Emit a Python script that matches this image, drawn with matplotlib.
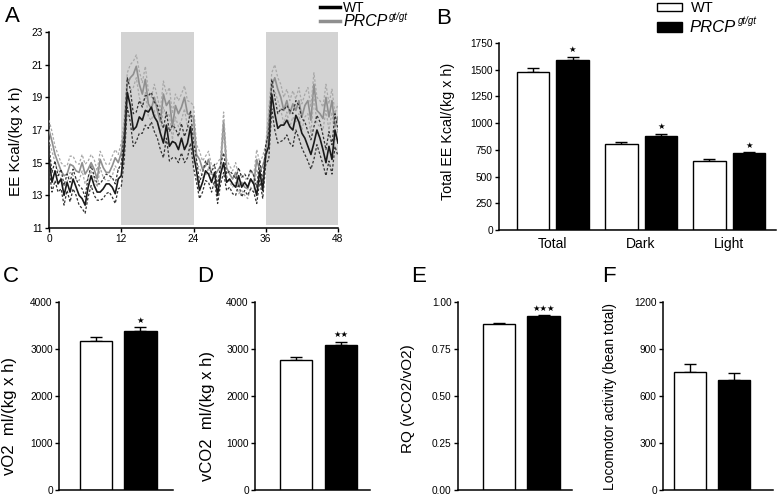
import numpy as np
import matplotlib
matplotlib.use("Agg")
import matplotlib.pyplot as plt

plt.rcParams['font.family'] = ['Liberation Sans', 'DejaVu Sans']

# ---------------- data ----------------
hours = np.arange(0, 48.5, 0.5)
wt_ee = [15.3, 13.8, 14.5, 13.7, 14.0, 13.0, 13.8, 13.2, 14.0, 13.5, 13.0, 12.8, 12.4, 13.5, 14.2, 13.6, 13.2, 13.2, 13.4, 13.7, 13.7, 13.5, 13.1, 14.0, 14.2,
         16.0, 19.3, 18.5, 17.0, 17.2, 17.8, 17.6, 18.2, 18.1, 18.4, 17.8, 17.5, 16.8, 16.2, 17.3, 16.0, 16.3, 16.2, 15.8, 16.5, 15.8, 16.2, 17.2, 15.5,
         14.5, 13.3, 13.8, 14.5, 14.3, 13.8, 14.4, 13.0, 14.3, 15.0, 13.8, 14.0, 13.7, 13.5, 14.2, 13.5, 13.8, 13.5, 14.0, 13.7, 13.0, 14.5, 13.3, 15.5,
         16.0, 19.2, 18.0, 17.1, 17.3, 17.3, 17.6, 17.2, 17.0, 17.9, 17.5, 16.8, 16.5, 16.0, 15.5, 16.2, 17.0, 16.5, 15.8, 15.0, 16.0, 15.2, 17.0, 16.2]
wt_sem = [0.7, 0.6, 0.6, 0.5, 0.6, 0.6, 0.5, 0.6, 0.6, 0.5, 0.6, 0.6, 0.5, 0.6, 0.6, 0.6, 0.5, 0.5, 0.6, 0.6, 0.5, 0.6, 0.6, 0.6, 0.7,
          0.8, 0.9, 1.0, 1.0, 0.9, 1.0, 0.8, 0.9, 1.0, 0.9, 0.9, 1.0, 1.0, 0.9, 0.8, 0.9, 1.0, 0.9, 0.8, 0.9, 0.8, 0.9, 1.0, 0.8,
          0.7, 0.5, 0.6, 0.6, 0.5, 0.6, 0.5, 0.5, 0.6, 0.6, 0.5, 0.5, 0.6, 0.5, 0.5, 0.6, 0.5, 0.5, 0.6, 0.5, 0.5, 0.6, 0.5, 0.6,
          0.8, 0.9, 1.0, 0.9, 1.0, 0.9, 0.9, 1.0, 1.0, 0.9, 1.0, 0.9, 1.0, 0.9, 0.9, 1.0, 0.9, 1.0, 0.9, 0.8, 0.9, 0.9, 1.0, 0.8]
prcp_ee = [17.0, 16.3, 15.5, 15.0, 14.5, 14.2, 14.3, 14.9, 14.8, 14.5, 14.4, 15.0, 14.3, 14.6, 15.0, 14.6, 14.0, 15.2, 14.7, 14.4, 14.4, 14.8, 15.3, 15.0, 15.6,
           17.0, 19.8, 20.2, 20.4, 20.9, 19.8, 19.2, 20.1, 18.6, 18.3, 19.0, 18.2, 17.5, 19.2, 18.5, 18.8, 17.2, 18.5, 18.0, 18.4, 19.0, 18.0, 17.9, 17.8,
           15.5, 15.2, 14.6, 14.8, 15.2, 14.3, 14.2, 14.5, 14.8, 17.5, 14.7, 14.3, 14.0, 14.4, 13.6, 13.8, 13.5, 13.4, 14.0, 13.7, 15.2, 14.5, 14.8, 15.5,
           17.5, 19.7, 20.2, 19.5, 19.0, 18.2, 18.8, 18.0, 18.6, 18.2, 18.8, 17.8, 18.5, 18.8, 17.6, 19.8, 18.2, 18.0, 17.7, 19.0, 17.8, 18.8, 17.2, 17.8]
prcp_sem = [0.6, 0.6, 0.5, 0.5, 0.5, 0.6, 0.5, 0.5, 0.6, 0.5, 0.5, 0.5, 0.6, 0.5, 0.5, 0.6, 0.5, 0.5, 0.6, 0.5, 0.5, 0.6, 0.5, 0.5, 0.6,
            0.7, 0.7, 0.8, 0.8, 0.7, 0.8, 0.7, 0.8, 0.8, 0.7, 0.8, 0.8, 0.7, 0.8, 0.7, 0.8, 0.8, 0.7, 0.8, 0.8, 0.7, 0.8, 0.8, 0.7,
            0.6, 0.5, 0.5, 0.6, 0.5, 0.5, 0.6, 0.5, 0.5, 0.6, 0.5, 0.5, 0.5, 0.6, 0.5, 0.5, 0.5, 0.6, 0.5, 0.5, 0.6, 0.5, 0.6, 0.6,
            0.7, 0.8, 0.8, 0.7, 0.8, 0.8, 0.7, 0.8, 0.8, 0.7, 0.8, 0.8, 0.7, 0.8, 0.8, 0.7, 0.8, 0.8, 0.7, 0.8, 0.8, 0.7, 0.8, 0.8]

b_cats = ["Total", "Dark", "Light"]
b_wt = [1480, 805, 645]
b_wt_err = [40, 22, 18]
b_prcp = [1590, 880, 718]
b_prcp_err = [30, 22, 8]
b_stars = ["★", "★", "★"]

small_panels = [
    # letter, ylabel, ymax, yticks, wt, wt_err, prcp, prcp_err, stars
    ("C", "vO2  ml/(kg x h)", 4000, [0, 1000, 2000, 3000, 4000], 3160, 85, 3390, 80, "★"),
    ("D", "vCO2  ml/(kg x h)", 4000, [0, 1000, 2000, 3000, 4000], 2770, 70, 3080, 75, "★★"),
    ("E", "RQ (vCO2/vO2)", 1.0, [0.0, 0.25, 0.5, 0.75, 1.0], 0.885, 0.004, 0.925, 0.005, "★★★"),
    ("F", "Locomotor activity (bean total)", 1200, [0, 300, 600, 900, 1200], 755, 48, 705, 40, ""),
]
small_tick_labels = {
    "C": ["0", "1000", "2000", "3000", "4000"],
    "D": ["0", "1000", "2000", "3000", "4000"],
    "E": ["0.00", "0.25", "0.50", "0.75", "1.00"],
    "F": ["0", "300", "600", "900", "1200"],
}

# ---------------- layout ----------------
W, H = 777, 495
fig = plt.figure(figsize=(W / 100, H / 100), dpi=100)


def px_axes(l, t, r, b):
    return fig.add_axes([l / W, 1 - b / H, (r - l) / W, (b - t) / H])


def style(ax, fs=7.3):
    for s in ["top", "right"]:
        ax.spines[s].set_visible(False)
    for s in ["left", "bottom"]:
        ax.spines[s].set_linewidth(1.1)
    ax.tick_params(direction="out", length=3, width=1, labelsize=fs, pad=1.5)


def place_ylabel(ax, text, fs, xc, yc):
    ax.set_ylabel(text, fontsize=fs)
    ax.yaxis.set_label_coords(xc / W, 1 - yc / H, transform=fig.transFigure)
    ax.yaxis.label.set_va("center")


GRAY = "#8f8f8f"

# ---------------- panel A ----------------
axA = px_axes(49, 32, 338, 228)
style(axA)
axA.axvspan(12, 24, ymin=0.015, ymax=1, color="#d3d3d3", lw=0, zorder=0)
axA.axvspan(36, 48, ymin=0.015, ymax=1, color="#d3d3d3", lw=0, zorder=0)
wt = np.array(wt_ee); ws = np.array(wt_sem)
pr = np.array(prcp_ee); ps = np.array(prcp_sem)
axA.plot(hours, pr, color=GRAY, lw=1.2, zorder=3)
axA.plot(hours, pr + ps, color="#a8a8a8", lw=0.9, ls=(0, (2, 1.5)), zorder=3)
axA.plot(hours, pr - ps, color="#a8a8a8", lw=0.9, ls=(0, (2, 1.5)), zorder=3)
axA.plot(hours, wt, color="#1a1a1a", lw=1.2, zorder=4)
axA.plot(hours, wt + ws, color="#333333", lw=0.9, ls=(0, (2, 1.5)), zorder=4)
axA.plot(hours, wt - ws, color="#333333", lw=0.9, ls=(0, (2, 1.5)), zorder=4)
axA.set_xlim(0, 48)
axA.set_ylim(11, 23)
axA.set_xticks([0, 12, 24, 36, 48])
axA.set_yticks([11, 13, 15, 17, 19, 21, 23])
place_ylabel(axA, "EE Kcal/(kg x h)", 11, 16, 141)
fig.text(5 / W, 1 - 17 / H, "A", fontsize=16, va="center", ha="left")

# legend A
fig.add_artist(plt.Line2D([320 / W, 340 / W], [1 - 7 / H, 1 - 7 / H], color="black", lw=2.5))
fig.add_artist(plt.Line2D([320 / W, 340 / W], [1 - 21 / H, 1 - 21 / H], color=GRAY, lw=2.5))
fig.text(343 / W, 1 - 12 / H, "WT", fontsize=10, va="baseline", ha="left")
fig.text(343 / W, 1 - 26 / H, "PRCP", fontsize=11.5, style="italic", va="baseline", ha="left")
fig.text(389 / W, 1 - 20.5 / H, "gt/gt", fontsize=7, style="italic", va="baseline", ha="left")

# ---------------- panel B ----------------
axB = px_axes(499, 43, 776, 230)
style(axB)
xb = np.arange(len(b_cats))
off = 0.225
bw = 0.37
axB.bar(xb - off, b_wt, bw, color="white", edgecolor="black", lw=1.0, zorder=2)
axB.bar(xb + off, b_prcp, bw, color="black", edgecolor="black", lw=1.0, zorder=2)
axB.errorbar(xb - off, b_wt, yerr=[np.zeros(3), b_wt_err], fmt="none", ecolor="black", elinewidth=1, capsize=4, capthick=1, zorder=1)
axB.errorbar(xb + off, b_prcp, yerr=[np.zeros(3), b_prcp_err], fmt="none", ecolor="black", elinewidth=1, capsize=4, capthick=1, zorder=1)
for i in range(3):
    axB.text(xb[i] + off, b_prcp[i] + b_prcp_err[i] + 25, b_stars[i], ha="center", va="bottom",
             fontsize=6, family="DejaVu Sans")
axB.set_xlim(-0.61, 2.53)
axB.set_ylim(0, 1750)
axB.set_yticks([0, 250, 500, 750, 1000, 1250, 1500, 1750])
axB.set_xticks(xb)
axB.set_xticklabels(b_cats, fontsize=10)
axB.tick_params(axis="x", length=0, pad=5)
place_ylabel(axB, "Total EE Kcal/(kg x h)", 10.3, 448, 131)
fig.text(436 / W, 1 - 18 / H, "B", fontsize=16, va="center", ha="left")

# legend B
fig.patches.append(plt.Rectangle((657 / W, 1 - 11 / H), 25 / W, 8 / H, transform=fig.transFigure,
                                 facecolor="white", edgecolor="black", lw=1))
fig.patches.append(plt.Rectangle((657 / W, 1 - 32 / H), 25 / W, 10 / H, transform=fig.transFigure,
                                 facecolor="black", edgecolor="black", lw=1))
fig.text(691 / W, 1 - 12 / H, "WT", fontsize=10.5, va="baseline", ha="left")
fig.text(689 / W, 1 - 32 / H, "PRCP", fontsize=12, style="italic", va="baseline", ha="left")
fig.text(738 / W, 1 - 23.5 / H, "gt/gt", fontsize=7, style="italic", va="baseline", ha="left")

# ---------------- panels C-F ----------------
boxes = {
    # l, r, xlim0, xlim1, letter x, ylabel fs, ylabel x, ylabel y
    "C": (59, 173, -0.83, 1.73, 3, 12, 10, 416),
    "D": (255, 370, -0.92, 1.65, 197, 12, 207, 416),
    "E": (458, 572, -0.92, 1.64, 411, 11, 408, 399),
    "F": (663, 773, -0.61, 1.87, 602, 10, 610, 396),
}
for letter, ylab, ymax, yt, wv, we, pv, pe, st in small_panels:
    l, r, x0, x1, lx, yfs, ylx, yly = boxes[letter]
    ax = px_axes(l, 302, r, 490)
    style(ax)
    ax.bar([0], [wv], 0.72, color="white", edgecolor="black", lw=1.0, zorder=2)
    ax.bar([1], [pv], 0.72, color="black", edgecolor="black", lw=1.0, zorder=2)
    ax.errorbar([0], [wv], yerr=[[0], [we]], fmt="none", ecolor="black", elinewidth=1, capsize=4.5, capthick=1, zorder=1)
    ax.errorbar([1], [pv], yerr=[[0], [pe]], fmt="none", ecolor="black", elinewidth=1, capsize=4.5, capthick=1, zorder=1)
    if st:
        ax.text(1, pv + pe + ymax * 0.012, st, ha="center", va="bottom", fontsize=6, family="DejaVu Sans")
    ax.set_xlim(x0, x1)
    ax.set_ylim(0, ymax)
    ax.set_yticks(yt)
    ax.set_yticklabels(small_tick_labels[letter])
    ax.set_xticks([])
    place_ylabel(ax, ylab, yfs, ylx, yly)
    fig.text(lx / W, 1 - 276 / H, letter, fontsize=16, va="center", ha="left")

fig.savefig("out.png", dpi=100)
